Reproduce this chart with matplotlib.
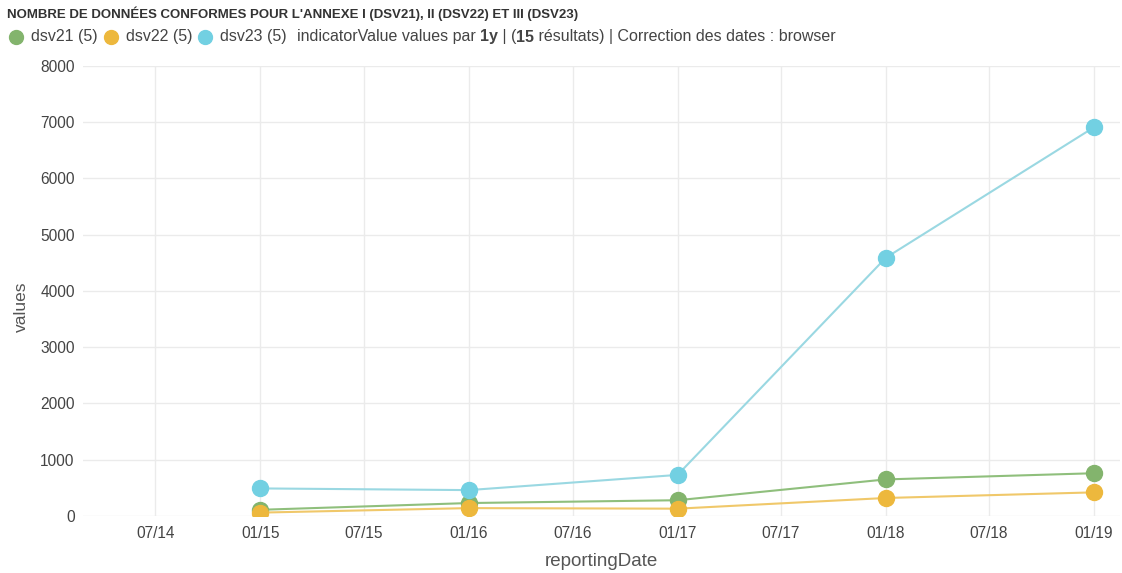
import numpy as np
import pandas as pd
import matplotlib
matplotlib.use("Agg")
from matplotlib import pyplot as plt, dates as mdates

plt.rcParams['font.family'] = ['Liberation Sans', 'DejaVu Sans']

dates = pd.to_datetime(["2015-01-01", "2016-01-01", "2017-01-01", "2018-01-01", "2019-01-01"])
dsv21 = [110, 230, 280, 650, 760]
dsv22 = [60, 140, 130, 320, 420]
dsv23 = [490, 460, 730, 4590, 6910]

series = [("dsv21 (5)", dsv21, "#83b46d", "#8fbf7c"),
          ("dsv22 (5)", dsv22, "#edb83d", "#f0c86a"),
          ("dsv23 (5)", dsv23, "#72d0e2", "#9ad8e2")]

fig = plt.figure(figsize=(11.22, 5.73), dpi=100)
ax = fig.add_axes([0.074, 0.0995, 0.924, 0.7855])

for name, vals, mcol, lcol in series:
    ax.plot(dates, vals, color=lcol, lw=1.5, zorder=2)
    ax.plot(dates, vals, ls='none', marker='o', ms=11.5, color=mcol, zorder=3)

ax.set_ylim(0, 8000)
ax.set_yticks(range(0, 8001, 1000))
ax.set_xlim(pd.Timestamp("2014-02-24"), pd.Timestamp("2019-02-15"))
ax.xaxis.set_major_locator(mdates.MonthLocator(bymonth=[1, 7]))
ax.xaxis.set_major_formatter(mdates.DateFormatter("%m/%y"))
ax.grid(True, color="#ebebeb", lw=1)
ax.set_axisbelow(True)
for s in ax.spines.values():
    s.set_visible(False)
ax.tick_params(length=0, labelsize=11.2, labelcolor="#444444")
ax.tick_params(axis='y', pad=6)
ax.tick_params(axis='x', pad=7)
ax.set_xlabel("reportingDate", fontsize=13.5, color="#555555", labelpad=9)
ax.set_ylabel("values", fontsize=12.5, color="#555555", labelpad=4)
ax.yaxis.set_label_coords(-0.052, 0.464)

fig.text(0.006, 0.976, "NOMBRE DE DONNÉES CONFORMES POUR L'ANNEXE I (DSV21), II (DSV22) ET III (DSV23)",
         fontsize=9.5, fontweight='bold', color="#333333", va='center', ha='left')

# legend row built from pieces so bold parts can be mixed in
fig.canvas.draw()
renderer = fig.canvas.get_renderer()
y = 1 - 37 / 573
x = 16
for name, vals, mcol, lcol in series:
    fig.add_artist(plt.Line2D([x / 1122], [y], marker='o', ms=10, color=mcol,
                              ls='none', transform=fig.transFigure))
    t = fig.text((x + 15) / 1122, y, name, fontsize=11.5, color="#444444", va='center')
    x += 15 + t.get_window_extent(renderer).width + 13
x += -3
pieces = [("indicatorValue values par ", 'normal'), ("1y", 'bold'), (" | (", 'normal'),
          ("15", 'bold'), (" résultats) | Correction des dates : browser", 'normal')]
for txt, w in pieces:
    t = fig.text(x / 1122, y, txt, fontsize=11.5, color="#444444", va='center', fontweight=w)
    x += t.get_window_extent(renderer).width

fig.savefig("out.png", dpi=100)
